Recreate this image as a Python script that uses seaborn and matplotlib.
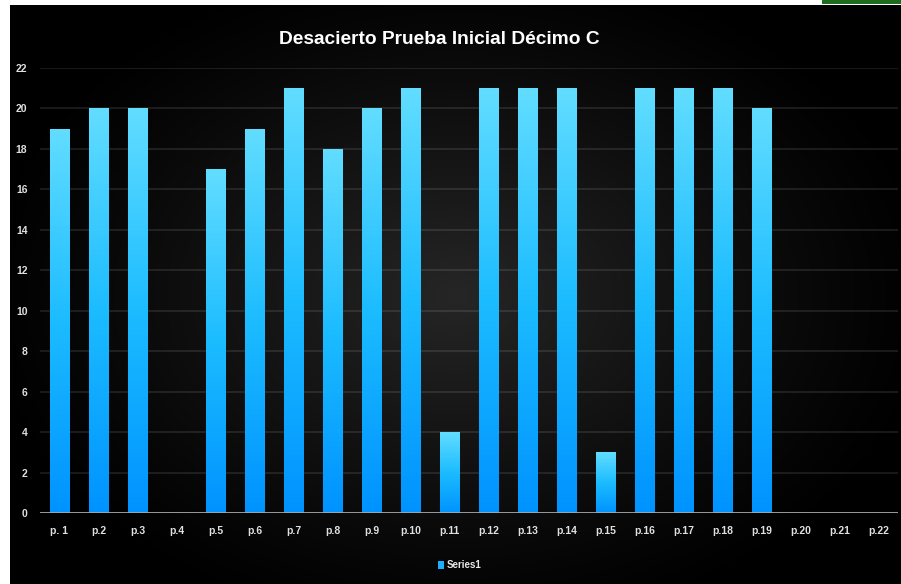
import numpy as np
import pandas as pd
import matplotlib
matplotlib.use("Agg")
import matplotlib.pyplot as plt
import seaborn as sns
from matplotlib.colors import LinearSegmentedColormap
from matplotlib.patches import Rectangle

# ---- data ----
categories = ["p. 1", "p.2", "p.3", "p.4", "p.5", "p.6", "p.7", "p.8", "p.9", "p.10", "p.11",
              "p.12", "p.13", "p.14", "p.15", "p.16", "p.17", "p.18", "p.19", "p.20", "p.21", "p.22"]
values = [19, 20, 20, 0, 17, 19, 21, 18, 20, 21, 4, 21, 21, 21, 3, 21, 21, 21, 20, 0, 0, 0]
series_name = "Series1"
title = "Desacierto Prueba Inicial Décimo C"
yticks = list(range(0, 23, 2))

df = pd.DataFrame({"cat": categories, "val": values})

sns.set_theme(style="dark")
fam = ["Liberation Sans", "DejaVu Sans"]
plt.rcParams["font.family"] = fam

W, H = 901, 584
fig = plt.figure(figsize=(W / 100, H / 100), dpi=100)
fig.patch.set_facecolor("white")

# chart background (radial gradient)
bg = fig.add_axes([10 / W, 0, (W - 10) / W, (H - 5) / H], zorder=0)
ny, nx = 300, 460
yy, xx = np.mgrid[0:ny, 0:nx]
cx, cy = nx * 0.50, ny * 0.50
r = np.sqrt(((xx - cx) / (nx * 0.55)) ** 2 + ((yy - cy) / (ny * 0.60)) ** 2)
inten = np.clip(1 - r, 0, 1) ** 1.2
bgcmap = LinearSegmentedColormap.from_list("bgc", ["#000000", "#262626"])
bg.imshow(inten, cmap=bgcmap, aspect="auto", extent=[0, 1, 0, 1], vmin=0, vmax=1)
bg.set_axis_off()

# green strip top right
fig.patches.append(Rectangle((822 / W, (H - 4) / H), (W - 822) / W, 4 / H,
                             transform=fig.transFigure, facecolor="#1f6b1f", edgecolor="none"))

ax = fig.add_axes([40 / W, 71 / H, 858 / W, 445 / H], zorder=1)
ax.set_facecolor("none")

sns.barplot(data=df, x="cat", y="val", ax=ax, width=0.51, color="#1ab0ff",
            edgecolor="#0b3850", linewidth=0.8, zorder=3)
if ax.get_legend() is not None:
    ax.get_legend().remove()

ax.set_ylim(0, 22)
ax.set_xlim(-0.5, len(categories) - 0.5)
ax.set_yticks(yticks)
ax.set_yticklabels([str(t) for t in yticks])

# gradient fill of bars
gcmap = LinearSegmentedColormap.from_list("barg", ["#0093ff", "#1cbcff", "#62ddff"])
grad = np.linspace(0, 1, 256).reshape(-1, 1)
for p in ax.patches:
    h = p.get_height()
    if h <= 0:
        p.set_visible(False)
        continue
    x0 = p.get_x()
    w = p.get_width()
    im = ax.imshow(grad, cmap=gcmap, aspect="auto", origin="lower",
                   extent=[x0, x0 + w, 0, h], zorder=3.5)
    im.set_clip_path(p)
ax.set_xlim(-0.5, len(categories) - 0.5)
ax.set_ylim(0, 22)

# grid
ax.grid(False)
for t in yticks[1:]:
    ax.axhline(t, color="white", alpha=0.11, lw=1.3, zorder=1)
ax.axhline(0, color="#a8a8a8", lw=2, zorder=5)

for s in ax.spines.values():
    s.set_visible(False)

ax.tick_params(axis="both", length=0, colors="#e0e0e0")
for lab in ax.get_yticklabels():
    lab.set_fontsize(7.5)
    lab.set_fontweight("bold")
for lab in ax.get_xticklabels():
    lab.set_fontsize(7.5)
    lab.set_fontweight("bold")
ax.tick_params(axis="y", pad=9)
ax.tick_params(axis="x", pad=9)
ax.set_xlabel("")
ax.set_ylabel("")

fig.text(439 / W, 1 - 40 / H, title, ha="center", va="center", color="white",
         fontsize=13.8, fontweight="bold", family=fam)

# legend
leg_handle = Rectangle((0, 0), 1, 1, facecolor="#1ab0ff", edgecolor="none")
leg = fig.legend([leg_handle], [series_name], loc="center", bbox_to_anchor=(460 / W, 1 - 565 / H),
                 frameon=False, fontsize=7, handlelength=0.6, handleheight=0.9, handletextpad=0.3)
for t in leg.get_texts():
    t.set_color("#e8e8e8")
    t.set_fontweight("bold")

fig.savefig("out.png", dpi=100, facecolor=fig.get_facecolor())
